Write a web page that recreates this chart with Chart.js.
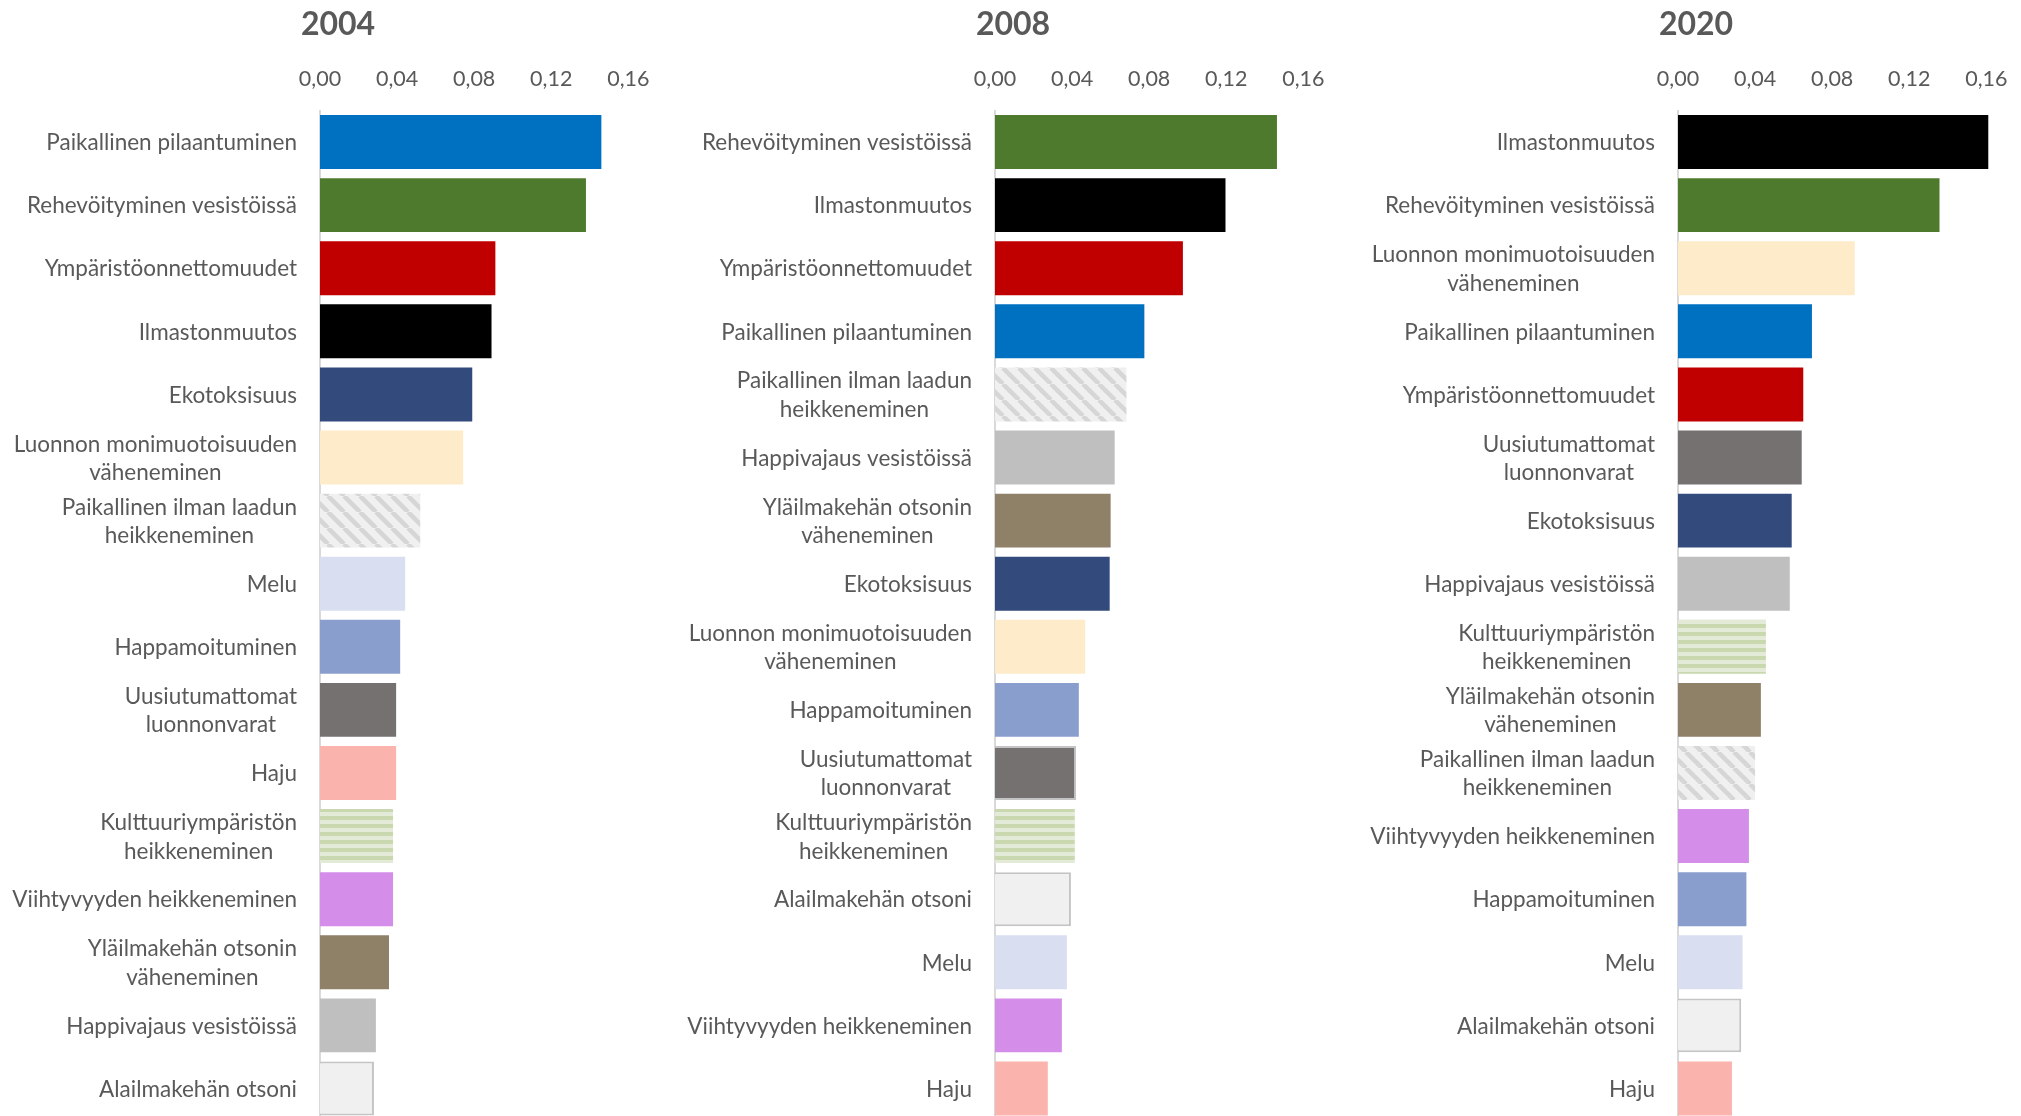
<!DOCTYPE html>
<html>
<head>
<meta charset="utf-8">
<script src="https://cdn.jsdelivr.net/npm/chart.js@4/dist/chart.umd.min.js"></script>
<style>
  html, body { margin: 0; padding: 0; background: #fff; }
  body { width: 2021px; height: 1116px; overflow: hidden; position: relative; }
  .panel { position: absolute; top: 0; width: 660px; height: 1120px; }
</style>
</head>
<body>
<div class="panel" style="left:8px"><canvas id="c2004"></canvas></div>
<div class="panel" style="left:683px"><canvas id="c2008"></canvas></div>
<div class="panel" style="left:1366px"><canvas id="c2020"></canvas></div>
<script>
// data
var categories2004 = ['Paikallinen pilaantuminen', 'Rehevöityminen vesistöissä', 'Ympäristöonnettomuudet', 'Ilmastonmuutos',
  'Ekotoksisuus', ['Luonnon monimuotoisuuden', 'väheneminen'], ['Paikallinen ilman laadun', 'heikkeneminen'], 'Melu',
  'Happamoituminen', ['Uusiutumattomat', 'luonnonvarat'], 'Haju', ['Kulttuuriympäristön', 'heikkeneminen'],
  'Viihtyvyyden heikkeneminen', ['Yläilmakehän otsonin', 'väheneminen'], 'Happivajaus vesistöissä', 'Alailmakehän otsoni'];
var values2004 = [0.146, 0.138, 0.091, 0.089, 0.079, 0.0743, 0.052, 0.0442, 0.0416, 0.0395, 0.0395, 0.0379, 0.0379, 0.0358, 0.029, 0.028];

var categories2008 = ['Rehevöityminen vesistöissä', 'Ilmastonmuutos', 'Ympäristöonnettomuudet', 'Paikallinen pilaantuminen',
  ['Paikallinen ilman laadun', 'heikkeneminen'], 'Happivajaus vesistöissä', ['Yläilmakehän otsonin', 'väheneminen'],
  'Ekotoksisuus', ['Luonnon monimuotoisuuden', 'väheneminen'], 'Happamoituminen', ['Uusiutumattomat', 'luonnonvarat'],
  ['Kulttuuriympäristön', 'heikkeneminen'], 'Alailmakehän otsoni', 'Melu', 'Viihtyvyyden heikkeneminen', 'Haju'];
var values2008 = [0.1463, 0.1196, 0.0975, 0.0775, 0.0682, 0.0621, 0.060, 0.0595, 0.0468, 0.0435, 0.0421, 0.0414, 0.0394, 0.0373, 0.0347, 0.0274];

var categories2020 = ['Ilmastonmuutos', 'Rehevöityminen vesistöissä', ['Luonnon monimuotoisuuden', 'väheneminen'],
  'Paikallinen pilaantuminen', 'Ympäristöonnettomuudet', ['Uusiutumattomat', 'luonnonvarat'], 'Ekotoksisuus',
  'Happivajaus vesistöissä', ['Kulttuuriympäristön', 'heikkeneminen'], ['Yläilmakehän otsonin', 'väheneminen'],
  ['Paikallinen ilman laadun', 'heikkeneminen'], 'Viihtyvyyden heikkeneminen', 'Happamoituminen', 'Melu',
  'Alailmakehän otsoni', 'Haju'];
var values2020 = [0.161, 0.1357, 0.0917, 0.0695, 0.065, 0.0642, 0.059, 0.058, 0.0456, 0.043, 0.040, 0.0368, 0.0355, 0.0335, 0.0328, 0.028];

var xTicks = [0, 0.04, 0.08, 0.12, 0.16];

var FONT = 'Lato';
var TEXT = '#595959';

// fill patterns
function hatch() {
  var c = document.createElement('canvas');
  c.width = 16; c.height = 16;
  var g = c.getContext('2d');
  g.fillStyle = '#F0F0F0';
  g.fillRect(0, 0, 16, 16);
  g.strokeStyle = '#D6D6D6';
  g.lineWidth = 4.5;
  [-16, 0, 16].forEach(function (o) {
    g.beginPath(); g.moveTo(o, 0); g.lineTo(o + 16, 16); g.stroke();
  });
  return g.createPattern(c, 'repeat');
}
function stripes() {
  var c = document.createElement('canvas');
  c.width = 8; c.height = 8;
  var g = c.getContext('2d');
  g.fillStyle = '#E3EBD8';
  g.fillRect(0, 0, 8, 8);
  g.fillStyle = '#C9D8AF';
  g.fillRect(0, 0, 8, 4);
  return g.createPattern(c, 'repeat');
}

var colors = {
  'Paikallinen pilaantuminen': '#0070C0',
  'Rehevöityminen vesistöissä': '#4E7A2E',
  'Ympäristöonnettomuudet': '#C00000',
  'Ilmastonmuutos': '#000000',
  'Ekotoksisuus': '#324A7C',
  'Luonnon monimuotoisuuden väheneminen': '#FDEBC9',
  'Paikallinen ilman laadun heikkeneminen': hatch(),
  'Melu': '#D9DEF0',
  'Happamoituminen': '#8A9ECE',
  'Uusiutumattomat luonnonvarat': '#767171',
  'Haju': '#FBB3AE',
  'Kulttuuriympäristön heikkeneminen': stripes(),
  'Viihtyvyyden heikkeneminen': '#D58DEA',
  'Yläilmakehän otsonin väheneminen': '#8F8068',
  'Happivajaus vesistöissä': '#BFBFBF',
  'Alailmakehän otsoni': '#F0F0F0'
};

function key(l) { return Array.isArray(l) ? l.join(' ') : l; }

// category labels: lines centred on each other, block right-aligned to the axis
var blockLabels = {
  id: 'blockLabels',
  afterDraw: function (chart) {
    var ctx = chart.ctx;
    var ys = chart.scales.y;
    ctx.save();
    ctx.font = '22.5px ' + FONT;
    ctx.fillStyle = TEXT;
    ctx.textAlign = 'center';
    ctx.textBaseline = 'middle';
    chart.data.labels.forEach(function (lab, i) {
      var lines = Array.isArray(lab) ? lab : [lab];
      var w = Math.max.apply(null, lines.map(function (s) { return ctx.measureText(s).width; }));
      var cx = chart.chartArea.left - 23 - w / 2;
      var cy = ys.getPixelForValue(i) + 1;
      lines.forEach(function (s, k) {
        ctx.fillText(s, cx, cy + (k - (lines.length - 1) / 2) * 28.5);
      });
    });
    ctx.restore();
  }
};

function makeChart(id, title, cats, vals, outlined) {
  new Chart(document.getElementById(id), {
    type: 'bar',
    data: {
      labels: cats,
      datasets: [{
        data: vals,
        backgroundColor: cats.map(function (c) { return colors[key(c)]; }),
        borderColor: cats.map(function (c) { return outlined.indexOf(key(c)) >= 0 ? '#C4C4C4' : 'rgba(0,0,0,0)'; }),
        borderWidth: cats.map(function (c) { return outlined.indexOf(key(c)) >= 0 ? 2 : 0; }),
        barPercentage: 0.855,
        categoryPercentage: 1
      }]
    },
    options: {
      indexAxis: 'y',
      responsive: true,
      maintainAspectRatio: false,
      animation: false,
      layout: { padding: 0 },
      plugins: {
        legend: { display: false },
        tooltip: { enabled: false },
        title: {
          display: true,
          text: title,
          color: TEXT,
          font: { family: FONT, size: 32, weight: 'bold', lineHeight: 1.2 },
          padding: { top: 5, bottom: 0 }
        }
      },
      scales: {
        x: {
          type: 'linear',
          position: 'top',
          min: 0,
          max: 0.18,
          grid: { display: false, drawTicks: false },
          border: { display: false },
          ticks: {
            stepSize: 0.04,
            padding: 18.5,
            color: TEXT,
            font: { family: FONT, size: 21.5, lineHeight: 1.2 },
            callback: function (v) { return v.toFixed(2).replace('.', ','); }
          },
          afterBuildTicks: function (s) {
            s.ticks = xTicks.map(function (v) { return { value: v }; });
          },
          afterFit: function (s) { s.height = 67.1; }
        },
        y: {
          type: 'category',
          grid: { display: false, drawTicks: false },
          border: { display: true, color: '#D9D9D9', width: 2 },
          ticks: { display: false },
          afterFit: function (s) { s.width = 312; }
        }
      }
    },
    plugins: [blockLabels]
  });
}

makeChart('c2004', '2004', categories2004, values2004, ['Alailmakehän otsoni']);
makeChart('c2008', '2008', categories2008, values2008, ['Alailmakehän otsoni', 'Uusiutumattomat luonnonvarat']);
makeChart('c2020', '2020', categories2020, values2020, ['Alailmakehän otsoni']);
</script>
</body>
</html>
